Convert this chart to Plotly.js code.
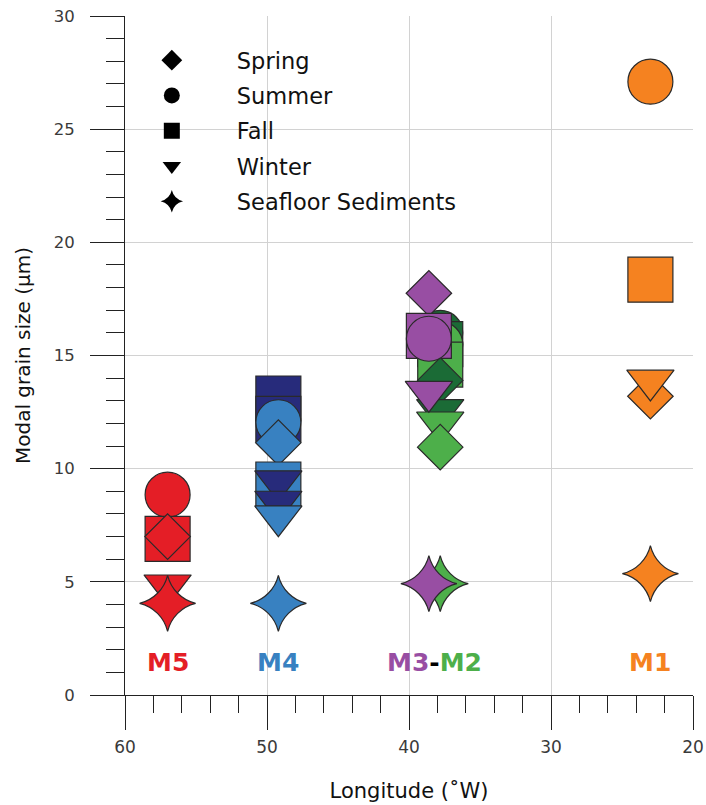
<!DOCTYPE html>
<html><head><meta charset="utf-8">
<script src="https://cdn.plot.ly/plotly-3.0.1.min.js"></script>
<style>html,body{margin:0;padding:0;background:#fff}</style>
</head><body><div id="chart" style="width:706px;height:805px"></div>
<script>
// Legend categories (season / sample type)
const seasons = ['Spring', 'Summer', 'Fall', 'Winter', 'Seafloor Sediments'];
const seasonSymbols = ['diamond', 'circle', 'square', 'triangle-down', 'star-diamond'];
const seasonSizes = [35, 45, 45, 41, 40];

// Mooring sites and their longitudes (°W)
const sites = ['M5', 'M4', 'M3', 'M2', 'M1'];
const siteLon = [57, 49.2, 38.6, 37.8, 23];
const siteLabelColor = ['#e41e26', '#3881c1', '#984ea3', '#4daf4a', '#f58220'];

// Colour groups
const groupNames = ['red', 'blue', 'navy', 'purple', 'green', 'darkgreen', 'orange'];
const groupColors = ['#e41e26', '#3881c1', '#272b7b', '#984ea3', '#4daf4a', '#1b6b36', '#f58220'];

// Observations, in drawing order
const obsSite = ['M5','M5','M5','M5','M5',
  'M4','M4','M4','M4','M4','M4','M4','M4','M4',
  'M2','M2','M2','M2','M2','M2','M2','M2','M2',
  'M3','M3','M3','M3','M3',
  'M1','M1','M1','M1','M1'];
const obsGroup = ['red','red','red','red','red',
  'navy','navy','blue','blue','blue','navy','navy','blue','blue',
  'darkgreen','darkgreen','green','green','darkgreen','darkgreen','green','green','green',
  'purple','purple','purple','purple','purple',
  'orange','orange','orange','orange','orange'];
const obsSeason = ['Summer','Fall','Spring','Winter','Seafloor Sediments',
  'Fall','Fall','Summer','Spring','Fall','Winter','Winter','Winter','Seafloor Sediments',
  'Summer','Fall','Summer','Fall','Spring','Winter','Winter','Spring','Seafloor Sediments',
  'Spring','Fall','Summer','Winter','Seafloor Sediments',
  'Summer','Fall','Spring','Winter','Seafloor Sediments'];
const obsGrain = [8.85, 6.9, 7.0, 4.85, 4.05,
  13.1, 12.2, 12.05, 11.15, 9.3, 9.45, 8.55, 7.9, 4.05,
  16.0, 15.5, 15.5, 14.6, 13.9, 12.6, 12.05, 10.95, 4.92,
  17.75, 15.87, 15.74, 13.4, 4.92,
  27.1, 18.35, 13.2, 13.9, 5.36];

const labelY = 1.45;

const traces = [];
// data trace (single trace so that drawing order follows the arrays)
traces.push({
  type: 'scatter', mode: 'markers', showlegend: false, hoverinfo: 'x+y',
  x: obsSite.map(s => siteLon[sites.indexOf(s)]),
  y: obsGrain,
  marker: {
    symbol: obsSeason.map(s => seasonSymbols[seasons.indexOf(s)]),
    size: obsSeason.map(s => seasonSizes[seasons.indexOf(s)]),
    color: obsGroup.map(g => groupColors[groupNames.indexOf(g)]),
    opacity: 1,
    line: {color: '#2a2a2a', width: 1.2}
  }
});
// legend entries
seasons.forEach((s, i) => {
  traces.push({
    type: 'scatter', mode: 'markers', name: s, legendgroup: s,
    x: [null], y: [null],
    marker: {symbol: seasonSymbols[i], color: '#000', size: 20, line: {width: 0}}
  });
});

const annotations = [
  {x: siteLon[0], text: '<span style="color:' + siteLabelColor[0] + '">M5</span>'},
  {x: siteLon[1], text: '<span style="color:' + siteLabelColor[1] + '">M4</span>'},
  {x: (siteLon[2] + siteLon[3]) / 2, text: '<span style="color:' + siteLabelColor[2] + '">M3</span>-<span style="color:' + siteLabelColor[3] + '">M2</span>'},
  {x: siteLon[4], text: '<span style="color:' + siteLabelColor[4] + '">M1</span>'}
].map(a => Object.assign({
  xref: 'x', yref: 'y', y: labelY, showarrow: false, xanchor: 'center', yanchor: 'middle',
  font: {family: 'DejaVu Sans', size: 25, color: '#000', weight: 'bold'}
}, a));
annotations.forEach(a => { a.text = '<b>' + a.text + '</b>'; });

const axisCommon = {
  showline: true, linecolor: '#222', linewidth: 1,
  ticks: 'outside', tickcolor: '#222', tickwidth: 1, ticklen: 34,
  showgrid: true, gridcolor: '#d2d2d2', gridwidth: 1,
  zeroline: false,
  tickfont: {family: 'DejaVu Sans', size: 17, color: '#3a3a3a'}
};

const layout = {
  width: 706, height: 805,
  margin: {l: 125, r: 13, t: 16, b: 110},
  paper_bgcolor: '#fff', plot_bgcolor: '#fff',
  font: {family: 'DejaVu Sans', color: '#000'},
  xaxis: Object.assign({}, axisCommon, {
    range: [60, 20], tickmode: 'linear', tick0: 20, dtick: 10, ticklabelstandoff: 3,
    minor: {ticks: 'outside', ticklen: 17, dtick: 2, tick0: 20, tickcolor: '#222', showgrid: false},
    title: {text: 'Longitude (˚W)', font: {family: 'DejaVu Sans', size: 21, color: '#111'}, standoff: 26}
  }),
  yaxis: Object.assign({}, axisCommon, {
    range: [0, 30], tickmode: 'linear', tick0: 0, dtick: 5, ticklabelstandoff: 12,
    tickfont: {family: 'DejaVu Sans', size: 16.5, color: '#3a3a3a'},
    minor: {ticks: 'outside', ticklen: 18, dtick: 1, tick0: 0, tickcolor: '#222', showgrid: false},
    title: {text: 'Modal grain size (µm)', font: {family: 'DejaVu Sans', size: 20, color: '#111'}, standoff: 17}
  }),
  legend: {
    x: -0.032, y: 0.966, xanchor: 'left', yanchor: 'top',
    bgcolor: 'rgba(0,0,0,0)', borderwidth: 0,
    font: {family: 'DejaVu Sans', size: 22.5, color: '#111'},
    traceorder: 'grouped', tracegroupgap: 3, itemwidth: 120
  },
  // white panel behind the legend, hiding the grid there
  shapes: [{
    type: 'rect', xref: 'paper', yref: 'paper', layer: 'between',
    x0: 0.035, x1: 0.5986, y0: 0.682, y1: 0.9735,
    fillcolor: '#fff', line: {width: 0}
  }],
  annotations: annotations,
  showlegend: true
};

Plotly.newPlot('chart', traces, layout, {displayModeBar: false, staticPlot: true});
</script>
</body></html>
